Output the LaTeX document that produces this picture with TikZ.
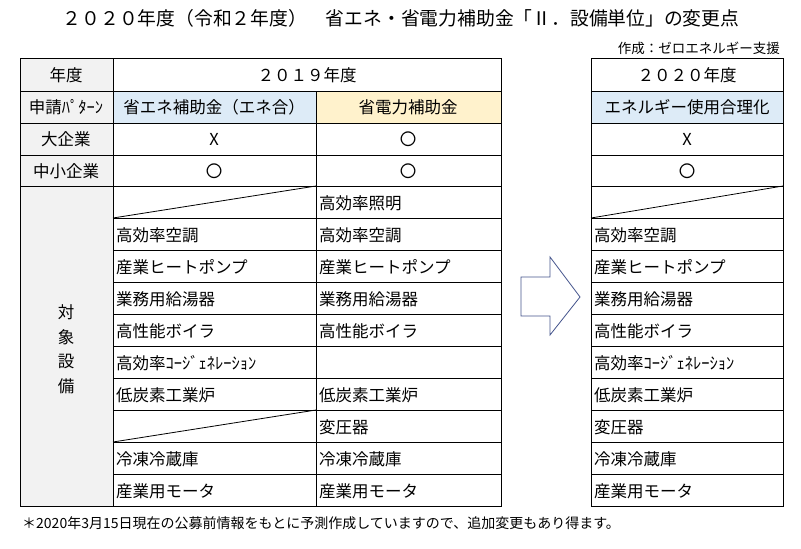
\documentclass[tikz,border=0pt]{standalone}
\usepackage{fontspec}
\setmainfont{Noto Sans CJK JP}
\definecolor{hdrblue}{HTML}{DDEBF7}
\definecolor{hdryel}{HTML}{FFF2CC}
\definecolor{hdrgray}{HTML}{F2F2F2}
\definecolor{arrowblue}{HTML}{44548C}
\begin{document}
\begin{tikzpicture}[x=1pt,y=-1pt,
  cell/.style={draw=black,line width=0.8pt},
  txt/.style={inner sep=0pt,font=\fontsize{16.5}{18}\selectfont},
  lt/.style={txt,anchor=west}]
\useasboundingbox (0,0) rectangle (801,549);
\node[txt,font=\fontsize{18.8}{20}\selectfont] (title) at (401,18) {２０２０年度（令和２年度）　省エネ・省電力補助金「Ⅱ．設備単位」の変更点};
\node[txt,anchor=east,font=\fontsize{13.5}{15}\selectfont] (credit) at (780,48) {作成：ゼロエネルギー支援};
% fills
\fill[hdrgray] (20,58) rectangle (113,506);
\fill[hdrblue] (113,91) rectangle (316,123);
\fill[hdryel] (316,91) rectangle (501,123);
\fill[hdrblue] (591,91) rectangle (783,123);
% grids
\draw[cell] (20,58) rectangle (501,506);
\draw[cell] (591,58) rectangle (783,506);
\foreach \y in {91,123,155,186}{\draw[cell] (20,\y) -- (501,\y); \draw[cell] (591,\y) -- (783,\y);}
\foreach \i in {1,...,9}{\pgfmathsetmacro\yy{186+\i*32}
  \draw[cell] (113,\yy) -- (501,\yy); \draw[cell] (591,\yy) -- (783,\yy);}
\draw[cell] (113,58) -- (113,506);
\draw[cell] (316,91) -- (316,506);
% diagonals
\draw[cell] (113,218) -- (316,186);
\draw[cell] (113,442) -- (316,410);
\draw[cell] (591,218) -- (783,186);
% headers
\node[txt] (h1) at (66,75) {年度};
\node[txt] (h2) at (66,107) {申請ﾊﾟﾀｰﾝ};
\node[txt] (h3) at (66,139) {大企業};
\node[txt] (h4) at (66,171) {中小企業};
\node[txt,align=center,font=\fontsize{16.5}{24.5}\selectfont] (h5) at (66,349) {対\\象\\設\\備};
\node[txt] (y19) at (307,75) {２０１９年度};
\node[txt] (p1) at (214,107) {省エネ補助金（エネ合）};
\node[txt] (p2) at (408,107) {省電力補助金};
\node[txt] (a1) at (214,139) {X};
\node[txt] (a2) at (408,139) {〇};
\node[txt] (b1) at (214,171) {〇};
\node[txt] (b2) at (408,171) {〇};
\node[txt] (y20) at (687,75) {２０２０年度};
\node[txt] (p3) at (687,107) {エネルギー使用合理化};
\node[txt] (a3) at (687,139) {X};
\node[txt] (b3) at (687,171) {〇};
\foreach \n/\t in {1/高効率空調,2/産業ヒートポンプ,3/業務用給湯器,4/高性能ボイラ,5/高効率ｺｰｼﾞｪﾈﾚｰｼｮﾝ,6/低炭素工業炉,8/冷凍冷蔵庫,9/産業用モータ}{
  \node[lt] (l\n) at (116,203+\n*32) {\t};}
\foreach \n/\t in {0/高効率照明,1/高効率空調,2/産業ヒートポンプ,3/業務用給湯器,4/高性能ボイラ,6/低炭素工業炉,7/変圧器,8/冷凍冷蔵庫,9/産業用モータ}{
  \node[lt] (m\n) at (319,203+\n*32) {\t};}
\foreach \n/\t in {1/高効率空調,2/産業ヒートポンプ,3/業務用給湯器,4/高性能ボイラ,5/高効率ｺｰｼﾞｪﾈﾚｰｼｮﾝ,6/低炭素工業炉,7/変圧器,8/冷凍冷蔵庫,9/産業用モータ}{
  \node[lt] (r\n) at (594,203+\n*32) {\t};}
% arrow
\draw[draw=arrowblue,line width=0.8pt,fill=white]
  (521,277) -- (550,277) -- (550,257) -- (580,297) -- (550,335) -- (550,316) -- (521,316) -- cycle;
\node[txt,anchor=west,font=\fontsize{14}{15}\selectfont] (note) at (22,523) {＊2020年3月15日現在の公募前情報をもとに予測作成していますので、追加変更もあり得ます。};
\end{tikzpicture}
\end{document}
